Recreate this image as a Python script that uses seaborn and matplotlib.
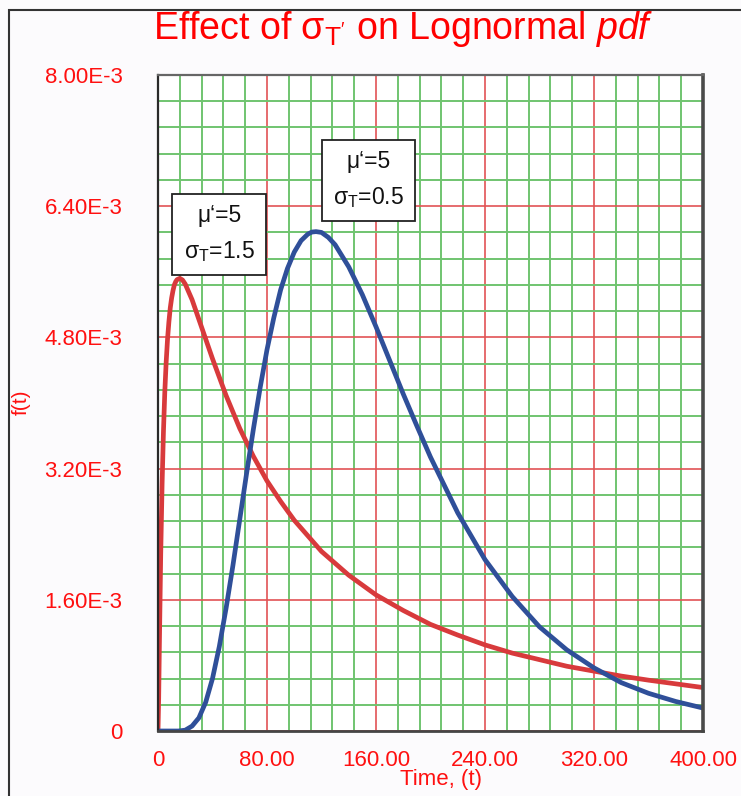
import matplotlib
matplotlib.use("Agg")
import matplotlib.pyplot as plt
import pandas as pd
import seaborn as sns
from matplotlib.patches import Rectangle
from matplotlib.ticker import FuncFormatter

# Lognormal pdf, mu' = 5, sigma_T' = 1.5
t_sigma15 = [0, 0.5, 1, 2, 3, 4, 5, 6, 7, 8, 9, 10, 11, 12, 13, 14, 16, 18, 20, 25, 30,
             35, 40, 50, 60, 70, 80, 90, 100, 120, 140, 160, 180, 200, 220, 240, 260,
             280, 300, 320, 340, 360, 380, 400]
pdf_sigma15 = [0, 0.40e-3, 1.03e-3, 2.16e-3, 3.01e-3, 3.65e-3, 4.14e-3, 4.50e-3, 4.78e-3,
               4.99e-3, 5.16e-3, 5.28e-3, 5.37e-3, 5.44e-3, 5.48e-3, 5.505e-3, 5.52e-3,
               5.50e-3, 5.45e-3, 5.26e-3, 5.02e-3, 4.78e-3, 4.54e-3, 4.09e-3, 3.69e-3,
               3.35e-3, 3.05e-3, 2.80e-3, 2.57e-3, 2.19e-3, 1.90e-3, 1.66e-3, 1.47e-3,
               1.30e-3, 1.17e-3, 1.05e-3, 0.95e-3, 0.87e-3, 0.79e-3, 0.73e-3, 0.67e-3,
               0.62e-3, 0.575e-3, 0.53e-3]

# Lognormal pdf, mu' = 5, sigma_T' = 0.5
t_sigma05 = [0, 10, 15, 20, 25, 30, 35, 40, 45, 50, 55, 60, 65, 70, 75, 80, 85, 90, 95,
             100, 105, 110, 113, 116, 120, 125, 130, 140, 150, 160, 170, 180, 190, 200,
             220, 240, 260, 280, 300, 320, 340, 360, 380, 400]
pdf_sigma05 = [0, 0, 0, 0.01e-3, 0.06e-3, 0.16e-3, 0.35e-3, 0.64e-3, 1.03e-3, 1.50e-3,
               2.02e-3, 2.58e-3, 3.14e-3, 3.68e-3, 4.19e-3, 4.65e-3, 5.04e-3, 5.38e-3,
               5.64e-3, 5.84e-3, 5.98e-3, 6.06e-3, 6.085e-3, 6.09e-3, 6.08e-3, 6.02e-3,
               5.93e-3, 5.66e-3, 5.32e-3, 4.93e-3, 4.52e-3, 4.11e-3, 3.72e-3, 3.34e-3,
               2.66e-3, 2.09e-3, 1.64e-3, 1.27e-3, 0.99e-3, 0.77e-3, 0.59e-3, 0.46e-3,
               0.36e-3, 0.28e-3]

x_major = [0, 80, 160, 240, 320, 400]
x_minor = list(range(0, 401, 16))
y_major = [0, 1.6e-3, 3.2e-3, 4.8e-3, 6.4e-3, 8.0e-3]
y_minor = [i * 0.32e-3 for i in range(26)]

label_sigma15 = "μ‘=5\n$\\mathregular{\\sigma_T}$=1.5"
label_sigma05 = "μ‘=5\n$\\mathregular{\\sigma_T}$=0.5"

sns.set_style("white")
plt.rcParams["font.family"] = ["Liberation Sans", "DejaVu Sans"]
plt.rcParams["mathtext.fontset"] = "custom"
plt.rcParams["mathtext.rm"] = "Liberation Sans"
plt.rcParams["mathtext.it"] = "Liberation Sans:italic"
plt.rcParams["mathtext.bf"] = "Liberation Sans:bold"

RED_TEXT = "#ff1010"
RED_CURVE = "#d83a3c"
BLUE_CURVE = "#2f4f99"
GRID_RED = "#e25355"
GRID_GREEN = "#70c470"

W, H = 741, 796
fig = plt.figure(figsize=(W / 100, H / 100), dpi=100, facecolor="#fcfbfd")
ax = fig.add_axes([158 / W, 65 / H, 545 / W, 656 / H])
ax.set_facecolor("white")

df15 = pd.DataFrame({"t": t_sigma15, "f": pdf_sigma15})
df05 = pd.DataFrame({"t": t_sigma05, "f": pdf_sigma05})
sns.lineplot(data=df15, x="t", y="f", color=RED_CURVE, lw=3.4, ax=ax,
             estimator=None, legend=False, zorder=4, solid_joinstyle="round")
sns.lineplot(data=df05, x="t", y="f", color=BLUE_CURVE, lw=3.4, ax=ax,
             estimator=None, legend=False, zorder=4, solid_joinstyle="round")

ax.set_xlim(0, 400)
ax.set_ylim(0, 8.0e-3)
ax.set_xticks(x_major)
ax.set_xticks(x_minor, minor=True)
ax.set_yticks(y_major)
ax.set_yticks(y_minor, minor=True)
ax.xaxis.set_major_formatter(FuncFormatter(lambda v, p: "0" if v == 0 else f"{v:.2f}"))
ax.yaxis.set_major_formatter(FuncFormatter(lambda v, p: "0" if v == 0 else f"{v * 1e3:.2f}E-3"))

ax.set_axisbelow(True)
ax.grid(which="minor", color=GRID_GREEN, lw=1.4)
ax.grid(which="major", color=GRID_RED, lw=1.2)

ax.tick_params(which="major", direction="out", color=GRID_RED, width=1.2,
               labelcolor=RED_TEXT, labelsize=16)
ax.tick_params(axis="y", which="major", length=8.6, pad=17)
ax.tick_params(axis="x", which="major", length=7, pad=7)
ax.tick_params(which="minor", length=0)
for ticks in (ax.xaxis.get_major_ticks(), ax.yaxis.get_major_ticks()):
    for tk in (ticks[0], ticks[-1]):
        tk.tick1line.set_color("#404040")

for name, col, lw in (("left", "#2a2a2a", 1.6), ("bottom", "#454545", 2.0),
                      ("right", "#4a4a4a", 2.6), ("top", "#666666", 1.6)):
    ax.spines[name].set_visible(True)
    ax.spines[name].set_color(col)
    ax.spines[name].set_linewidth(lw)
    ax.spines[name].set_zorder(5)

ax.set_xlabel("Time, (t)", color=RED_TEXT, fontsize=16)
ax.xaxis.set_label_coords((441 - 158) / 545, (731 - 780) / 656)
ax.xaxis.label.set_verticalalignment("center")
ax.set_ylabel("f(t)", color=RED_TEXT, fontsize=15)
ax.yaxis.set_label_coords((21 - 158) / 545, (731 - 402) / 656)
ax.yaxis.label.set_verticalalignment("center")

box = dict(boxstyle="square,pad=0.5", fc="white", ec="#222222", lw=1.3)
ax.text(45, 6.06e-3, label_sigma15, ha="center", va="center", fontsize=16.5,
        linespacing=1.6, bbox=box, zorder=6, color="#111111")
ax.text(154.5, 6.72e-3, label_sigma05, ha="center", va="center", fontsize=16.5,
        linespacing=1.6, bbox=box, zorder=6, color="#111111")

fig.text(153 / W, 1 - 39 / H,
         "Effect of $\\mathregular{\\sigma_{T'}}$ on Lognormal $\\mathit{pdf}$",
         color="#ff0000", fontsize=27, ha="left", va="baseline")

fig.add_artist(Rectangle((9 / W, -0.1), 1.2, (H - 10) / H + 0.1,
                         transform=fig.transFigure, fill=False,
                         ec="#333333", lw=1.5))

fig.savefig("out.png", dpi=100, facecolor=fig.get_facecolor())
